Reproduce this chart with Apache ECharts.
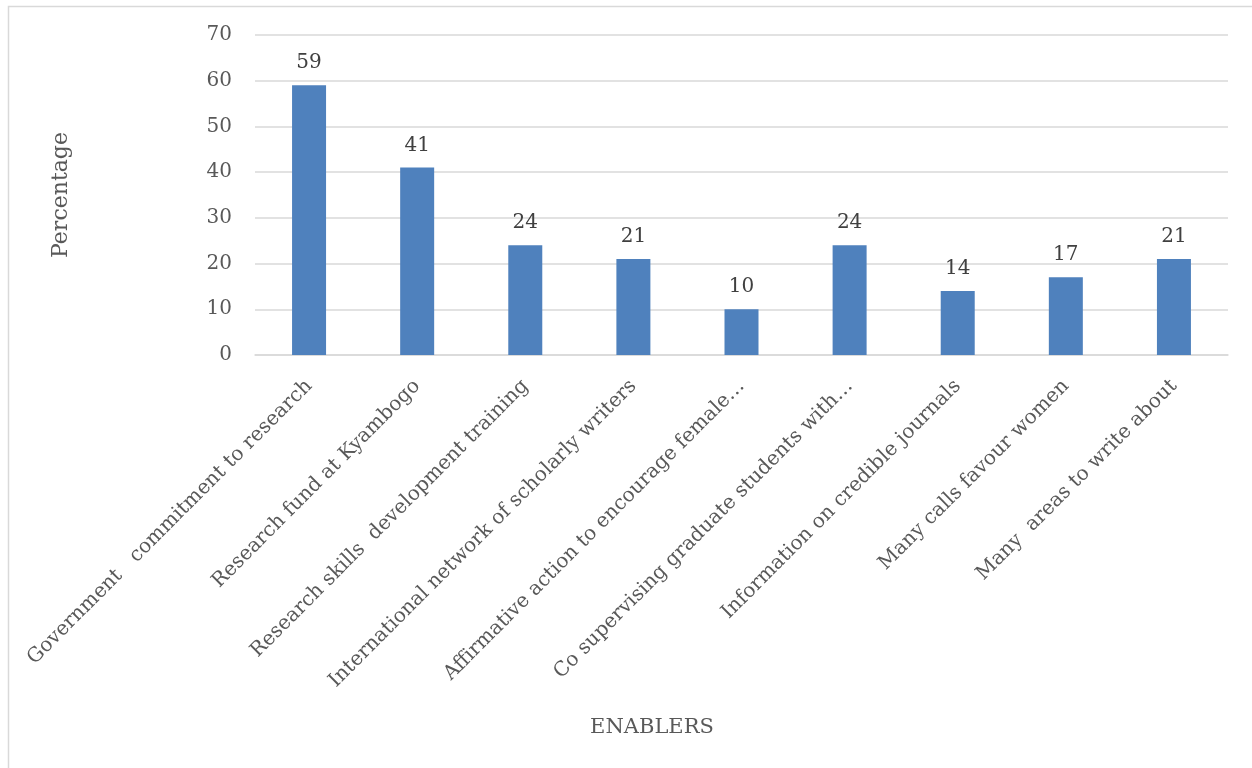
<!DOCTYPE html>
<html>
<head>
<meta charset="utf-8">
<title>Enablers</title>
<script src="https://cdn.jsdelivr.net/npm/echarts@6/dist/echarts.min.js"></script>
<style>
  html, body { margin: 0; padding: 0; background: #ffffff; }
  #chart { width: 1252px; height: 768px; }
</style>
</head>
<body>
<div id="chart"></div>
<script>
// Enablers and the percentage of respondents citing each one
const categories = [
  'Government   commitment to research',
  'Research fund at Kyambogo',
  'Research skills  development training',
  'International network of scholarly writers',
  'Affirmative action to encourage female…',
  'Co supervising graduate students with…',
  'Information on credible journals',
  'Many calls favour women',
  'Many  areas to write about'
];
const percentages = [59, 41, 24, 21, 10, 24, 14, 17, 21];
const yTicks = { min: 0, max: 70, interval: 10 };
const xTitle = 'ENABLERS';
const yTitle = 'Percentage';

const FONT = '"DejaVu Serif", "Liberation Serif", serif';
const TEXT = '#595959';
const GRID_LINE = '#d9d9d9';

const chart = echarts.init(document.getElementById('chart'), null, { renderer: 'canvas' });

chart.setOption({
  backgroundColor: '#ffffff',
  animation: false,
  textStyle: { fontFamily: FONT, color: TEXT },
  graphic: [
    {
      // frame around the chart area
      type: 'rect',
      silent: true,
      shape: { x: 8.5, y: 6.5, width: 1400, height: 900 },
      style: { fill: 'none', stroke: GRID_LINE, lineWidth: 1.5 }
    },
    {
      type: 'text',
      silent: true,
      x: 652, y: 728,
      style: {
        text: xTitle, fontFamily: FONT, fontSize: 21, fill: TEXT,
        align: 'center', verticalAlign: 'middle'
      }
    },
    {
      type: 'text',
      silent: true,
      x: 61, y: 195,
      rotation: Math.PI / 2,
      style: {
        text: yTitle, fontFamily: FONT, fontSize: 22, fill: TEXT,
        align: 'center', verticalAlign: 'middle'
      }
    }
  ],
  grid: { left: 255, right: 24, top: 35, bottom: 413, containLabel: false },
  xAxis: {
    type: 'category',
    data: categories,
    axisLine: { show: true, lineStyle: { color: GRID_LINE, width: 1.5 } },
    axisTick: { show: false },
    axisLabel: {
      interval: 0,
      rotate: 45,
      margin: 28,
      fontFamily: FONT,
      fontSize: 20,
      color: TEXT
    }
  },
  yAxis: {
    type: 'value',
    min: yTicks.min,
    max: yTicks.max,
    interval: yTicks.interval,
    axisLine: { show: false },
    axisTick: { show: false },
    axisLabel: { margin: 23, fontFamily: FONT, fontSize: 20, color: TEXT },
    splitLine: { lineStyle: { color: GRID_LINE, width: 1.5 } }
  },
  series: [{
    type: 'bar',
    data: percentages,
    barWidth: 34,
    itemStyle: { color: '#4f81bd' },
    label: {
      show: true,
      position: 'top',
      distance: 12,
      fontFamily: FONT,
      fontSize: 20,
      color: '#404040'
    }
  }]
});
</script>
</body>
</html>
